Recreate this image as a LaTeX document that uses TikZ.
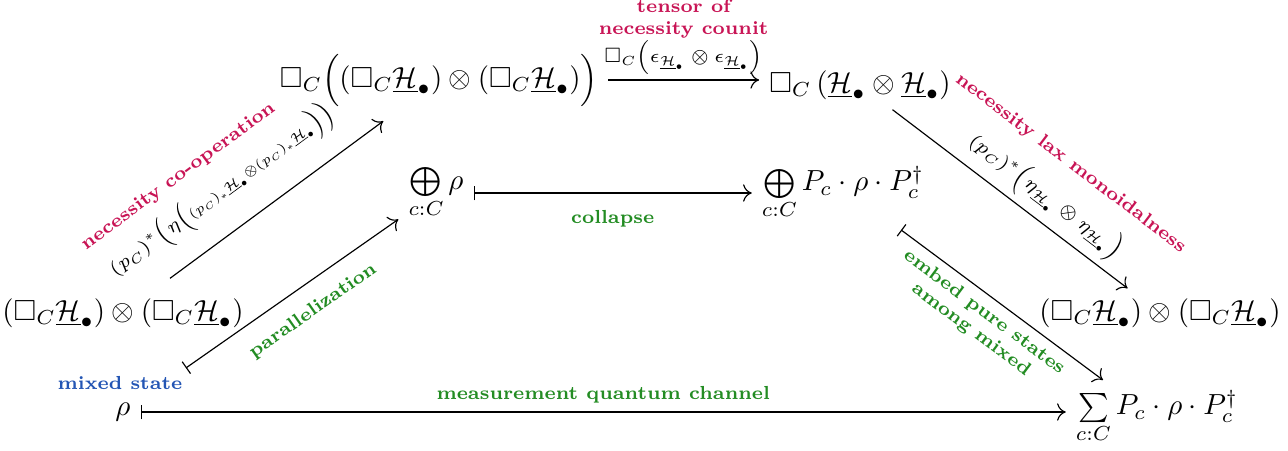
\RequirePackage{fix-cm}
\documentclass[tikz,border=0pt]{standalone}
\usepackage{amsmath,amssymb}
\usetikzlibrary{arrows.meta}
\definecolor{redlbl}{RGB}{200,20,85}
\definecolor{greenlbl}{RGB}{35,140,35}
\definecolor{bluelbl}{RGB}{35,85,180}
\newcommand{\Hb}{\underline{\mathcal{H}}_\bullet}
\newcommand{\BoxH}{\left(\Box_C\Hb\right)}

\begin{document}
\begin{tikzpicture}[x=0.0121cm,y=-0.0121cm,
  obj/.style={inner sep=3.3pt},
  lbl/.style={font=\fontsize{6.5}{7.5}\selectfont\bfseries,align=center,inner sep=1pt},
  mlbl/.style={font=\fontsize{6.5}{7.5}\selectfont,inner sep=1pt},
  arr/.style={-{To[length=3pt,width=6pt]}},
  mapsto/.style={{Bar[width=5pt]}-{To[length=3pt,width=6pt]}}]
 \useasboundingbox (0,0) rectangle (1288,451);
 % objects
 \node[obj] (rho) at (123,412) {$\rho$};
 \node[lbl,text=bluelbl] (mixst) at (120,383) {mixed state};
 \node[obj] (sum) at (1157,417) {$\sum\limits_{c:C} P_c\cdot\rho\cdot P_c^\dagger$};
 \node[obj] (tenL) at (123,313) {$\BoxH\otimes\BoxH$};
 \node[obj] (tenR) at (1160,313) {$\BoxH\otimes\BoxH$};
 \node[obj] (boxT) at (439,80) {$\Box_C\Bigl(\BoxH\otimes\BoxH\Bigr)$};
 \node[obj] (boxH) at (860,85) {$\Box_C\left(\Hb\otimes\Hb\right)$};
 \node[obj] (dsum) at (436,193) {$\bigoplus\limits_{c:C}\rho$};
 \node[obj] (dsumP) at (843,193) {$\bigoplus\limits_{c:C} P_c\cdot\rho\cdot P_c^\dagger$};
 % quantum side
 \draw[mapsto] (rho) -- (rho -| sum.west)
   node[lbl,text=greenlbl,midway,yshift=6pt] (meas) {measurement quantum channel};
 \draw[mapsto,shorten <=19pt] (rho) -- (dsum)
   node[lbl,text=greenlbl,sloped,pos=.61,yshift=-9pt] (para) {parallelization};
 \draw[mapsto] (dsum) -- (dsum -| dsumP.west)
   node[lbl,text=greenlbl,midway,yshift=-9pt] (coll) {collapse};
 \draw[mapsto] ([xshift=20pt]dsumP.south) -- ([xshift=-18.6pt]sum.north)
   node[lbl,text=greenlbl,sloped,pos=.46,yshift=-9.5pt] (embed) {embed pure states\\among mixed};
 % necessity side
 \draw[arr,shorten <=5.8pt,shorten >=2.8pt] (tenL) -- (boxT)
   node[mlbl,sloped,pos=.38,yshift=13.4pt] (coop) {$(p_C)^*\Bigl(\eta\Bigl(\scriptstyle(p_C)_*\Hb\otimes(p_C)_*\Hb\Bigr)\Bigr)$}
   node[lbl,text=redlbl,sloped,pos=.29,yshift=26.5pt] (coopn) {necessity co-operation};
 \draw[arr] (boxT) -- (boxT -| boxH.west)
   node[mlbl,midway,yshift=7.6pt] (counit) {$\Box_C\Bigl(\epsilon_{\Hb}\otimes\epsilon_{\Hb}\Bigr)$}
   node[lbl,text=redlbl,midway,yshift=21pt] (counitn) {tensor of\\necessity counit};
 \draw[arr] (boxH) -- (tenR)
   node[mlbl,sloped,pos=.59,yshift=8.1pt] (lax) {$(p_C)^*\Bigl(\eta_{\Hb}\otimes\eta_{\Hb}\Bigr)$}
   node[lbl,text=redlbl,sloped,pos=.59,yshift=22.4pt] (laxn) {necessity lax monoidalness};
\end{tikzpicture}
\end{document}
